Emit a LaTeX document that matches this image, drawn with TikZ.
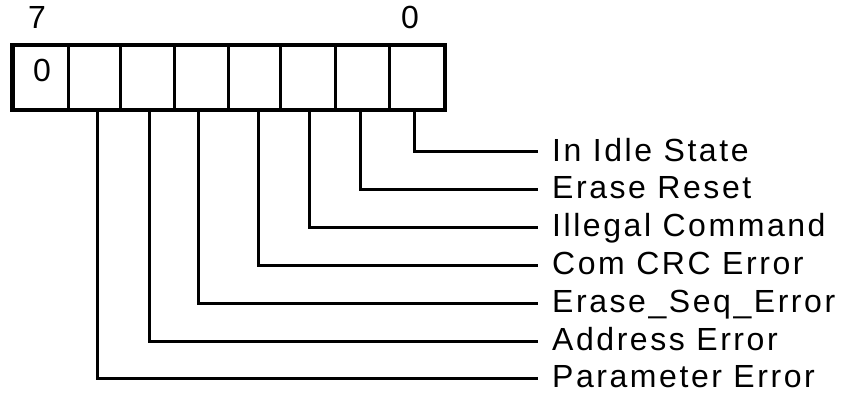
\documentclass[tikz,border=0pt]{standalone}
\usepackage{fontspec}
\setmainfont{Liberation Sans}[LetterSpace=8]
\begin{document}
\begin{tikzpicture}[x=1pt,y=-1pt,
  cell/.style={draw=black, line width=2.5pt, minimum height=63pt, inner sep=0pt, anchor=north west},
  lbl/.style={font=\fontsize{32}{38}\selectfont, text height=23pt, text depth=4pt, inner sep=0pt, anchor=west},
  conn/.style={line width=3pt, line join=miter}]
\useasboundingbox (0,0) rectangle (841,393);
% cells, left (bit 7) to right (bit 0)
\node[cell, minimum width=55pt] (c7) at (12,45) {};
\node[cell, minimum width=52pt] (c6) at (67,45) {};
\node[cell, minimum width=54pt] (c5) at (119,45) {};
\node[cell, minimum width=54pt] (c4) at (173,45) {};
\node[cell, minimum width=52pt] (c3) at (227,45) {};
\node[cell, minimum width=55pt] (c2) at (279,45) {};
\node[cell, minimum width=54pt] (c1) at (334,45) {};
\node[cell, minimum width=55pt] (c0) at (388,45) {};
\draw[line width=3.2pt] (c7.north west) rectangle (c0.south east);
% bit numbers
\node[lbl, anchor=center] (n7) at (37,19) {7};
\node[lbl, anchor=center] (n0) at (410,19) {0};
\node[lbl, anchor=center] (v7) at (42,72) {0};
% labels
\node[lbl] (l0) at (552,152) {In Idle State};
\node[lbl] (l1) at (552,189.5) {Erase Reset};
\node[lbl] (l2) at (552,227) {Illegal Command};
\node[lbl] (l3) at (552,265) {Com CRC Error};
\node[lbl] (l4) at (552,303) {Erase\_Seq\_Error};
\node[lbl] (l5) at (552,341) {Address Error};
\node[lbl] (l6) at (552,378) {Parameter Error};
% connectors
\draw[conn] ([xshift=-2.5pt]c0.south) |- ([xshift=-14pt]l0.west);
\draw[conn] ([xshift=-2pt]c1.south) |- ([xshift=-14pt]l1.west);
\draw[conn] ([xshift=1.5pt]c2.south) |- ([xshift=-14pt]l2.west);
\draw[conn] ([xshift=4pt]c3.south) |- ([xshift=-14pt]l3.west);
\draw[conn] ([xshift=-3pt]c4.south) |- ([xshift=-14pt]l4.west);
\draw[conn] ([xshift=2pt]c5.south) |- ([xshift=-14pt]l5.west);
\draw[conn] ([xshift=3.5pt]c6.south) |- ([xshift=-14pt]l6.west);
\end{tikzpicture}
\end{document}
